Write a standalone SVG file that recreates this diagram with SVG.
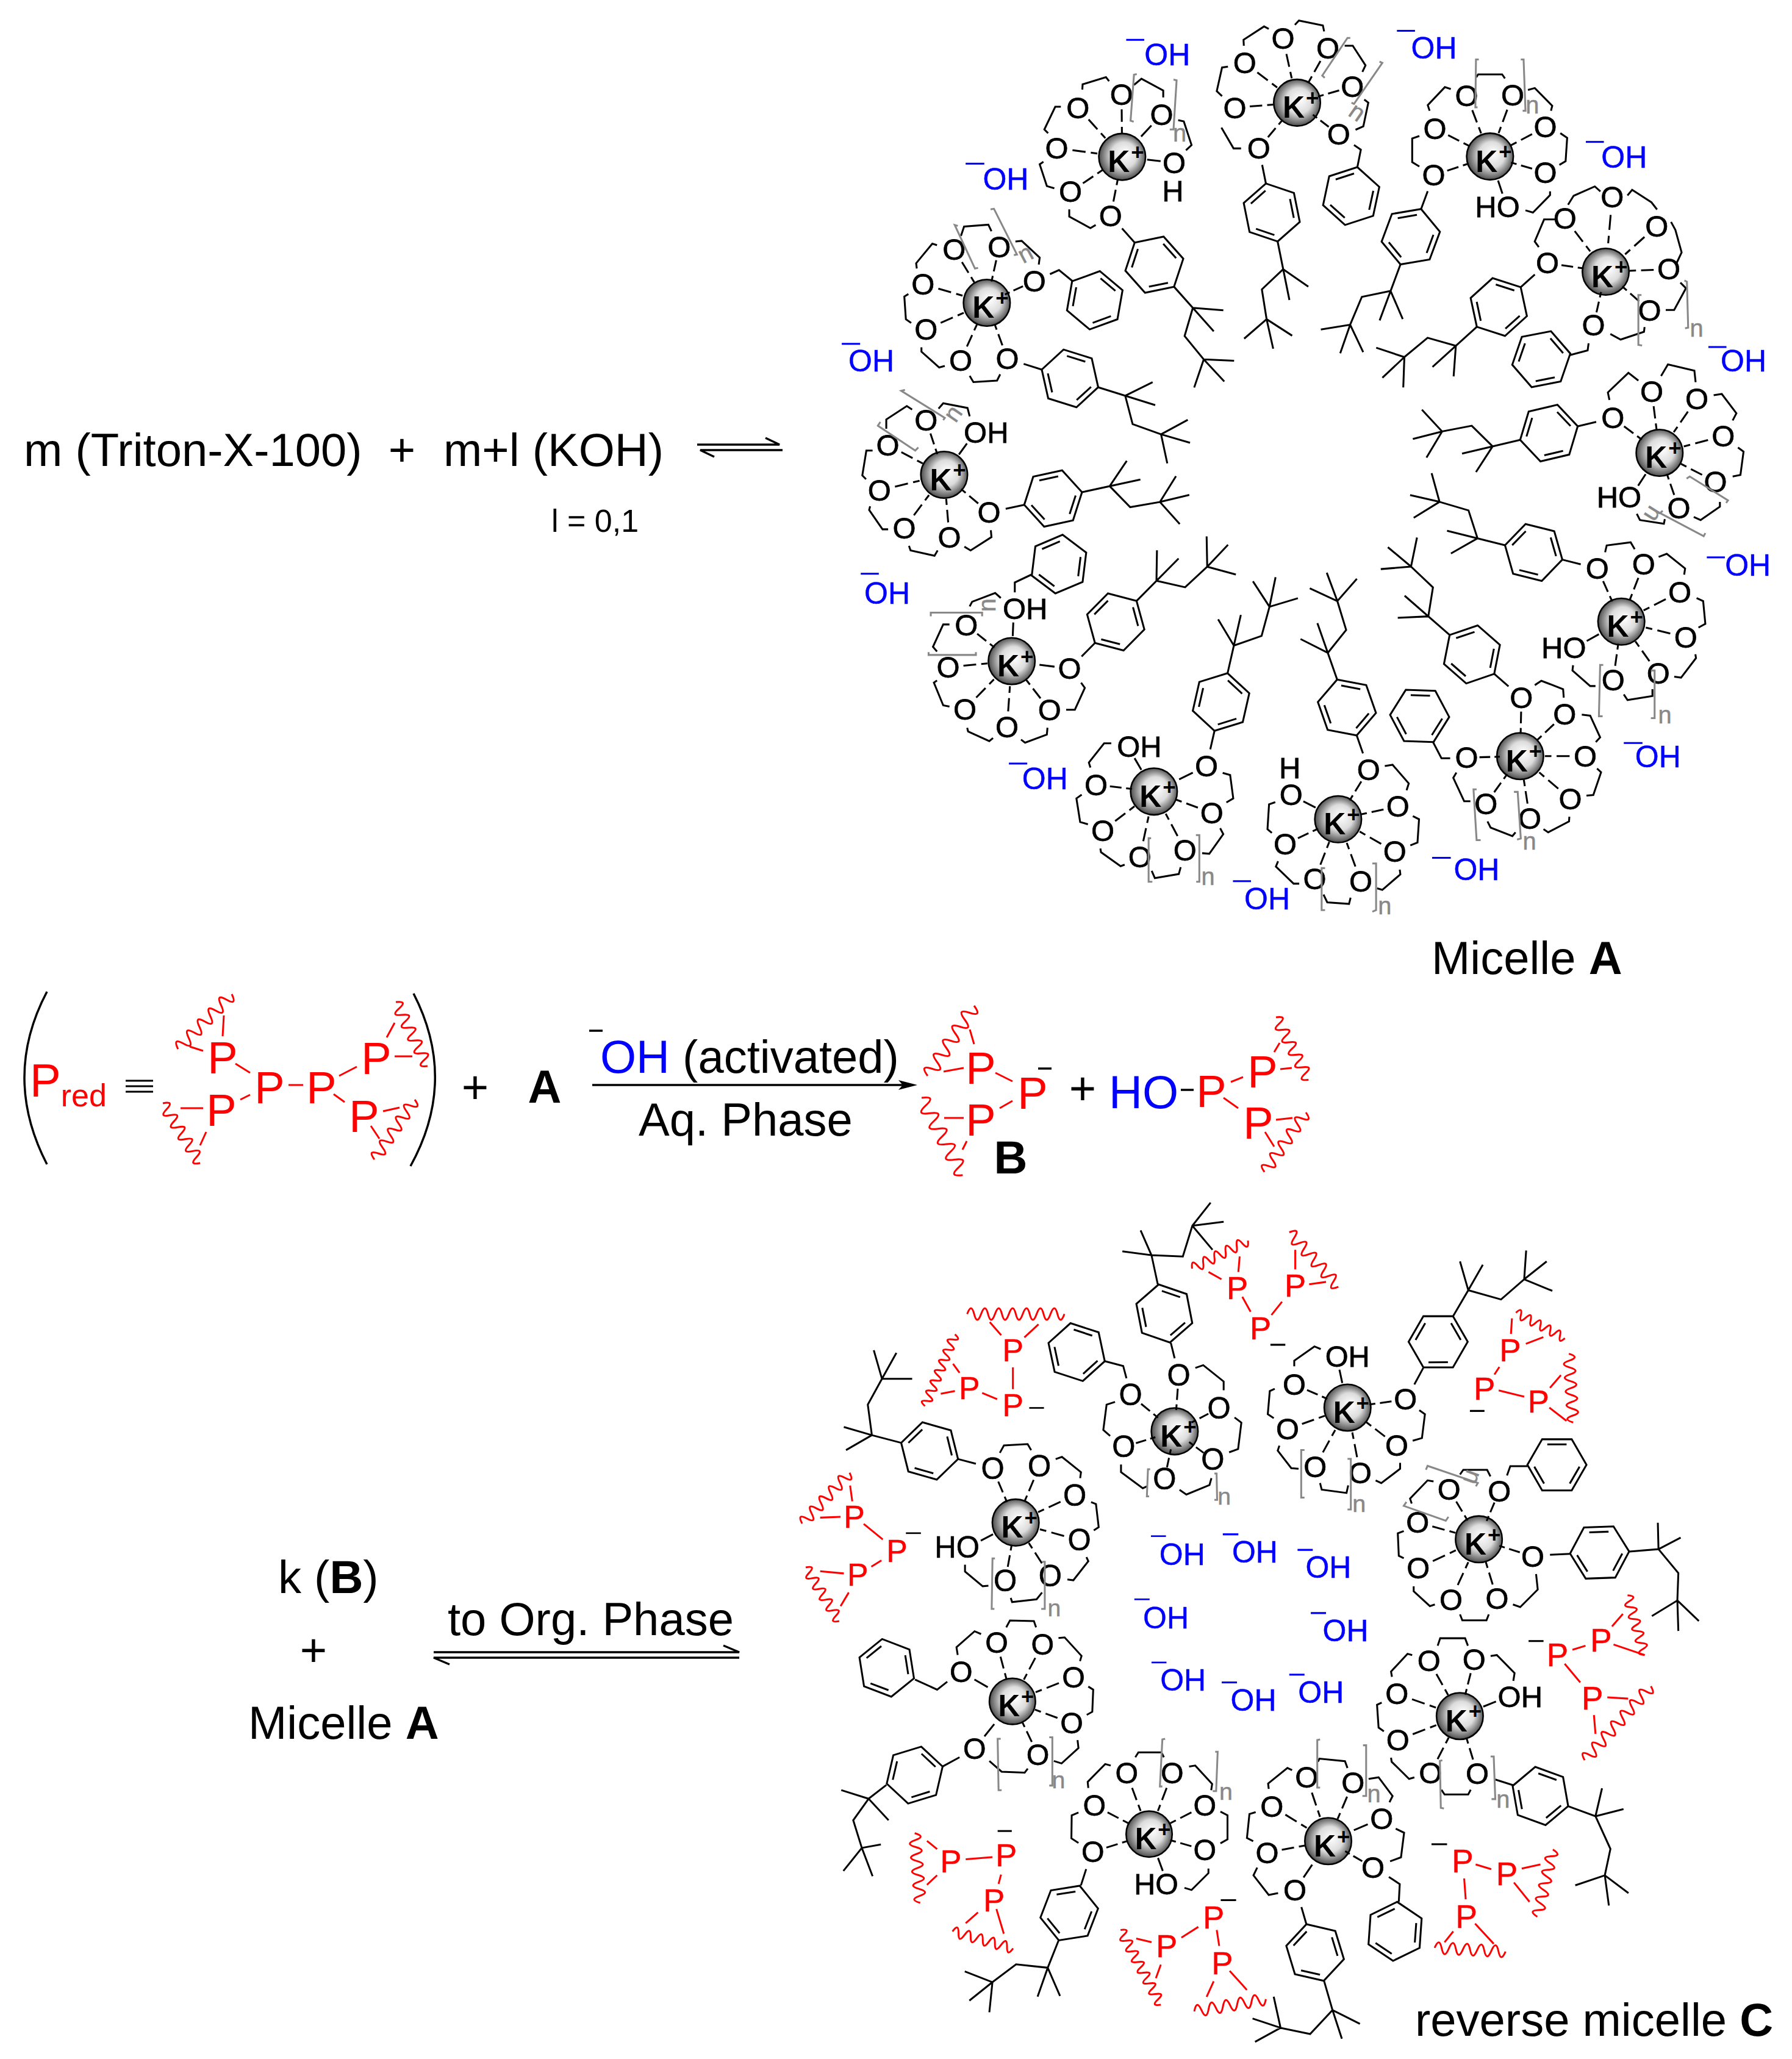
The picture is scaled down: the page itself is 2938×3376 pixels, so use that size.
<svg xmlns="http://www.w3.org/2000/svg" xmlns:xlink="http://www.w3.org/1999/xlink" width="2938" height="3376" viewBox="0 0 2938 3376">
<style>
text{font-family:"Liberation Sans",Arial,sans-serif}
.l{fill:none;stroke:#000;stroke-width:6}
.c4 .l{stroke-width:6.8}.c9 .l{stroke-width:5.6}
.r{fill:none;stroke:#f00;stroke-width:6}
.c4 .r{stroke-width:6.8}.c9 .r{stroke-width:5.6}
.g{fill:none;stroke:#888;stroke-width:6}
.c4 .g{stroke-width:6.8}.c9 .g{stroke-width:5.6}
.s path{fill:none;stroke:#000;stroke-width:6;stroke-dasharray:0 38 10 8 20 100}
.c4 .s path{stroke-width:6.8}.c9 .s path{stroke-width:5.6}
.s path.h{stroke-dasharray:0 48 26 100}
.o,.oh,.p,.n{text-anchor:middle;dominant-baseline:central}
.o{font-size:96px;fill:#000;stroke:#000;stroke-width:1.5}.oh{font-size:98px;fill:#00f;stroke:#00f;stroke-width:1}.p{font-size:104px;fill:#f00;stroke:#f00;stroke-width:1}
.n{font-size:78px;fill:#888;stroke:#888;stroke-width:1}
.c4 .o{font-size:110px}.c4 .oh{font-size:112px}.c4 .p{font-size:116px}.c4 .n{font-size:88px}
.c9 .o{font-size:90px}.c9 .oh{font-size:92px}.c9 .p{font-size:97px}.c9 .n{font-size:73px}
.k{font-size:98px;font-weight:700;text-anchor:middle;fill:#000}
.kp{font-size:72px}
.b{fill:url(#ball);stroke:#000;stroke-width:5}
.bar{stroke:#00f;stroke-width:6;fill:none}
.mb{stroke:#000;stroke-width:6;fill:none}
.w{fill:none;stroke:#f00;stroke-width:3;vector-effect:non-scaling-stroke}
.t{font-size:76px;fill:#000}.tb{font-weight:700}
.red{fill:#f00}.blue{fill:#00f}
.pf{font-size:74px;fill:#f00;text-anchor:middle}
.fl{fill:none;stroke:#f00;stroke-width:3}
.fk{fill:none;stroke:#000;stroke-width:3.5}
</style>
<defs>
<radialGradient id="ball" cx=".5" cy=".5" r=".55" fx=".58" fy=".42">
<stop offset="0" stop-color="#fff"/><stop offset=".5" stop-color="#dcdcdc"/><stop offset=".85" stop-color="#666"/><stop offset="1" stop-color="#222"/>
</radialGradient>
<g id="ph"><path class="l" d="M95,0L47.5,82.3H-47.5L-95,0L-47.5,-82.3H47.5Z M72.7,6L41.3,60 M-41.3,60L-72.7,6 M-31,-66H31"/></g>
<g id="t"><path class="l" d="M55,0H116 M306,0H498 M397,0L468,-68 M397,0L447,80L544,84L591,167 M544,84L641,82 M544,84L612,14"/><use href="#ph" x="211"/></g>
<path id="wv" class="w" d="M0,0c10,-28 18,-28 25,0c7,28 15,28 25,0c10,-28 18,-28 25,0c7,28 15,28 25,0c10,-28 18,-28 25,0c7,28 15,28 25,0c10,-28 18,-28 25,0c7,28 15,28 25,0c10,-28 18,-28 25,0c7,28 15,28 25,0c10,-28 18,-28 25,0c7,28 15,28 25,0c10,-28 18,-28 25,0c7,28 15,28 25,0"/>
<path id="wf" class="w" d="M0,0c14,-38 25,-38 35,0c10,38 21,38 35,0c14,-38 25,-38 35,0c10,38 21,38 35,0c14,-38 25,-38 35,0c10,38 21,38 35,0c14,-38 25,-38 35,0c10,38 21,38 35,0c14,-38 25,-38 35,0c10,38 21,38 35,0"/>
</defs>
<rect width="2938" height="3376" fill="#fff"/>

<g id="micelle-a-left" transform="translate(1350,50) scale(.5102)">
<g id="a1">
<path class="l" d="M1279,312L1318,379H1342 M1300,116L1281,119L1264,195L1281,211 M1351,49L1350,30L1416,-13L1431,-5 M1515,-18L1528,-32L1605,-16L1609,3 M1675,49H1701L1742,112L1732,133 M1738,222L1751,232L1735,308L1710,319 M1705,368L1727,383L1716,438"/>
<use href="#t" transform="translate(1399,378) rotate(78.6)"/>
<use href="#ph" transform="translate(1696,532) rotate(-18)"/>
<g transform="translate(1522,232)"><circle class="b" r="75"/></g>
<g class="s"><path pathLength="100" d="M1522,232L1399,378"/><path pathLength="100" d="M1522,232L1322,248"/><path pathLength="100" d="M1522,232L1354,104"/><path pathLength="100" d="M1522,232L1477,26"/><path pathLength="100" d="M1522,232L1621,56"/><path pathLength="100" d="M1522,232L1700,180"/><path pathLength="100" d="M1522,232L1656,334"/></g>
<text class="k" x="1534" y="281">K<tspan class="kp" dx=".05em" dy="-.55em">+</tspan></text>
<text class="o" x="1399" y="378">O</text><text class="o" x="1322" y="248">O</text><text class="o" x="1354" y="104">O</text><text class="o" x="1477" y="26">O</text><text class="o" x="1621" y="56">O</text><text class="o" x="1700" y="180">O</text><text class="o" x="1656" y="334">O</text>
<path class="g" d="M1693,24H1684L1603,145L1611,152 M1787,100L1796,104L1705,236L1697,232"/>
<text class="n" x="1716" y="261" transform="rotate(35 1716 261)">n</text>
</g>
<g id="a2">
<path class="l" d="M832,190L833,173L908,150L918,163 M763,245H745L710,318L722,330 M707,422L695,430L718,500L742,507 M790,575V598L858,635L875,625 M998,175L1022,155L1092,193V215 M1140,288L1158,292L1183,368L1165,385"/>
<use href="#t" transform="translate(923,595) rotate(48.3)"/>
<g transform="translate(960,406)"><circle class="b" r="75"/></g>
<g class="s"><path pathLength="100" d="M960,406L958,205"/><path pathLength="100" d="M960,406L818,248"/><path pathLength="100" d="M960,406L750,378"/><path pathLength="100" d="M960,406L794,518"/><path pathLength="100" d="M960,406L923,595"/><path class="h" pathLength="100" d="M960,406L1127,425"/><path class="h" pathLength="100" d="M960,406L1087,270"/></g>
<text class="k" x="972" y="455">K<tspan class="kp" dx=".05em" dy="-.55em">+</tspan></text>
<text class="o" x="958" y="205">O</text><text class="o" x="818" y="248">O</text><text class="o" x="750" y="378">O</text><text class="o" x="794" y="518">O</text><text class="o" x="923" y="595">O</text><text class="o" x="1087" y="270">O</text><text class="o" x="1127" y="425">O</text><text class="o" x="1123" y="515">H</text>
<path class="g" d="M1007,140L998,142L987,290L997,293 M1125,158L1135,160L1125,318L1113,318"/>
<text class="n" x="1145" y="330">n</text>
</g>
<g id="a3">
<path class="l" d="M442,660L452,630L530,624L540,645 M617,678L637,676L695,730L692,752 M300,765L298,748L350,685L365,690 M273,847L260,855L265,928L282,940 M315,1018V1032L372,1083L390,1078 M470,1110L482,1130L558,1125L568,1105 M728,783L757,770L800,805"/>
<use href="#t" transform="translate(591,1055) rotate(17.4)"/>
<use href="#ph" transform="translate(872,867) rotate(-80)"/>
<g transform="translate(525,875)"><circle class="b" r="75"/></g>
<g class="s"><path pathLength="100" d="M525,875L420,703"/><path pathLength="100" d="M525,875L565,695"/><path pathLength="100" d="M525,875L678,805"/><path pathLength="100" d="M525,875L320,815"/><path pathLength="100" d="M525,875L330,960"/><path pathLength="100" d="M525,875L441,1060"/><path pathLength="100" d="M525,875L591,1055"/></g>
<text class="k" x="537" y="924">K<tspan class="kp" dx=".05em" dy="-.55em">+</tspan></text>
<text class="o" x="420" y="703">O</text><text class="o" x="565" y="695">O</text><text class="o" x="678" y="805">O</text><text class="o" x="320" y="815">O</text><text class="o" x="330" y="960">O</text><text class="o" x="441" y="1060">O</text><text class="o" x="591" y="1055">O</text>
<path class="g" d="M432,628L422,625L487,765L497,763 M537,575L548,573L622,720L612,722"/>
<text class="n" x="648" y="716" transform="rotate(-28 648 716)">n</text>
</g>
<g id="a4">
<path class="l" d="M202,1280V1250L268,1207L285,1218 M158,1350H138L125,1430L137,1442 M150,1529L147,1541L190,1603H208 M275,1656L280,1671L357,1688L367,1671 M453,1659L473,1671L540,1628L538,1606 M370,1215L385,1198L463,1213L470,1240"/>
<use href="#t" transform="translate(532,1549) rotate(-12.3)"/>
<g transform="translate(388,1428)"><circle class="b" r="75"/></g>
<g class="s"><path pathLength="100" d="M388,1428L330,1253"/><path pathLength="100" d="M388,1428L207,1332"/><path pathLength="100" d="M388,1428L180,1478"/><path pathLength="100" d="M388,1428L260,1599"/><path pathLength="100" d="M388,1428L405,1629"/><path pathLength="100" d="M388,1428L532,1549"/><path class="h" pathLength="100" d="M388,1428L487,1292"/></g>
<text class="k" x="400" y="1477">K<tspan class="kp" dx=".05em" dy="-.55em">+</tspan></text>
<text class="o" x="330" y="1253">O</text><text class="o" x="207" y="1332">O</text><text class="o" x="180" y="1478">O</text><text class="o" x="260" y="1599">O</text><text class="o" x="405" y="1629">O</text><text class="o" x="532" y="1549">O</text><text class="o" x="523" y="1292">OH</text>
<path class="g" d="M262,1155L250,1158L390,1245L385,1252 M183,1258L175,1270L295,1350L305,1340"/>
<text class="n" x="415" y="1230" transform="rotate(-55 415 1230)">n</text>
</g>
<g id="a12">
<path class="l" d="M2098,150L2104,141H2181L2190,154 M2016,188L1997,182L1942,240L1948,258 M1915,339L1892,347V423L1915,437 M2264,191L2286,185L2342,242L2338,258 M2368,330L2390,345L2385,420L2365,432 M2335,517V529L2280,585L2256,578"/>
<use href="#t" transform="translate(1961,465) rotate(110.4)"/>
<g transform="translate(2142,405)"><circle class="b" r="75"/></g>
<g class="s"><path pathLength="100" d="M2142,405L2067,209"/><path pathLength="100" d="M2142,405L2215,207"/><path pathLength="100" d="M2142,405L2320,310"/><path pathLength="100" d="M2142,405L2320,456"/><path pathLength="100" d="M2142,405L1965,315"/><path pathLength="100" d="M2142,405L1961,465"/><path class="h" pathLength="100" d="M2142,405L2196,566"/></g>
<text class="k" x="2154" y="454">K<tspan class="kp" dx=".05em" dy="-.55em">+</tspan></text>
<text class="o" x="2067" y="209">O</text><text class="o" x="2215" y="207">O</text><text class="o" x="2320" y="310">O</text><text class="o" x="2320" y="456">O</text><text class="o" x="1965" y="315">O</text><text class="o" x="1961" y="465">O</text><text class="o" x="2166" y="566">HO</text>
<path class="g" d="M2106,93H2097L2095,247H2102 M2241,93H2250L2256,258H2247"/>
<text class="n" x="2278" y="240">n</text>
</g>
<text class="oh" x="1105" y="78">OH</text><path class="bar" d="M973,30h58"/>
<text class="oh" x="586" y="478">OH</text><path class="bar" d="M457,428h60"/>
<text class="oh" x="154" y="1062">OH</text><path class="bar" d="M59,1007h59"/>
<text class="oh" x="1962" y="57">OH</text><path class="bar" d="M1843,1h58"/>
<text class="oh" x="2573" y="408">OH</text><path class="bar" d="M2450,358h58"/>
</g>

<g id="micelle-a-right" transform="translate(2130,420) scale(.5102)">
<g id="a10">
<path class="l" d="M1090,400L1058,375L992,438L997,462 M1163,385L1185,348L1270,368L1274,405 M1332,447L1358,443L1405,505L1393,528 M1410,615L1428,628L1418,703L1393,708 M1352,790V805L1290,848L1268,838 M1175,845L1172,860L1095,848L1085,828"/>
<use href="#t" transform="translate(1008,520) rotate(166.7)"/>
<g transform="translate(1158,632)"><circle class="b" r="75"/></g>
<g class="s"><path pathLength="100" d="M1158,632L1008,520"/><path pathLength="100" d="M1158,632L1133,435"/><path pathLength="100" d="M1158,632L1278,458"/><path pathLength="100" d="M1158,632L1363,578"/><path pathLength="100" d="M1158,632L1338,725"/><path pathLength="100" d="M1158,632L1220,810"/><path class="h" pathLength="100" d="M1158,632L1065,775"/></g>
<text class="k" x="1170" y="681">K<tspan class="kp" dx=".05em" dy="-.55em">+</tspan></text>
<text class="o" x="1008" y="520">O</text><text class="o" x="1133" y="435">O</text><text class="o" x="1278" y="458">O</text><text class="o" x="1363" y="578">O</text><text class="o" x="1338" y="725">O</text><text class="o" x="1220" y="810">O</text><text class="o" x="1028" y="775">HO</text>
<path class="g" d="M1245,715L1255,708L1378,785L1372,793 M1168,818L1160,826L1300,900L1305,890"/>
<text class="n" x="1140" y="830" transform="rotate(122 1140 830)">n</text>
</g>
<g id="a11">
<path class="l" d="M1000,250L1033,268L1108,243L1110,228 M1178,173H1205L1243,103L1225,85 M770,-29L757,-47L787,-118H823 M864,-165L882,-194L950,-224L968,-208 M1055,-195L1070,-213L1132,-173L1150,-150 M1195,-110L1209,-84L1229,-12L1213,22 M930,280L927,303L870,318"/>
<use href="#t" transform="translate(798,22) rotate(137.9)"/>
<use href="#ph" transform="translate(778,331) rotate(-71)"/>
<g transform="translate(985,50)"><circle class="b" r="75"/></g>
<g class="s"><path pathLength="100" d="M985,50L798,22"/><path pathLength="100" d="M985,50L946,222"/><path pathLength="100" d="M985,50L1126,175"/><path pathLength="100" d="M985,50L1188,42"/><path pathLength="100" d="M985,50L1149,-97"/><path pathLength="100" d="M985,50L1006,-190"/><path pathLength="100" d="M985,50L854,-122"/></g>
<text class="k" x="997" y="99">K<tspan class="kp" dx=".05em" dy="-.55em">+</tspan></text>
<text class="o" x="798" y="22">O</text><text class="o" x="946" y="222">O</text><text class="o" x="1126" y="175">O</text><text class="o" x="1188" y="42">O</text><text class="o" x="1149" y="-97">O</text><text class="o" x="1006" y="-190">O</text><text class="o" x="854" y="-122">O</text>
<path class="g" d="M1100,125H1090V285L1102,287 M1238,78L1246,82L1250,230L1240,232"/>
<text class="n" x="1277" y="232">n</text>
</g>
<text class="oh" x="1428" y="338">OH</text><path class="bar" d="M1315,292h58"/>
<text class="oh" x="1442" y="993">OH</text><path class="bar" d="M1310,968h58"/>
</g>

<g id="micelle-a-bottom-right" transform="translate(2000,880) scale(.5102)">
<g id="a7">
<path class="l" d="M530,737L555,733L607,793L600,815 M620,898L640,908L635,983L612,992 M578,1070L580,1085L522,1135L505,1130 M420,1160L415,1180L345,1175L333,1150 M255,1115H237L180,1060L187,1043 M167,952L153,940L158,860L178,853"/>
<use href="#t" transform="translate(478,748) rotate(-109.3)"/>
<g transform="translate(380,908)"><circle class="b" r="75"/></g>
<g class="s"><path pathLength="100" d="M380,908L478,748"/><path pathLength="100" d="M380,908L572,867"/><path pathLength="100" d="M380,908L562,1012"/><path pathLength="100" d="M380,908L453,1108"/><path pathLength="100" d="M380,908L305,1100"/><path pathLength="100" d="M380,908L210,988"/><path class="h" pathLength="100" d="M380,908L229,830"/></g>
<text class="k" x="392" y="957">K<tspan class="kp" dx=".05em" dy="-.55em">+</tspan></text>
<text class="o" x="478" y="748">O</text><text class="o" x="572" y="867">O</text><text class="o" x="562" y="1012">O</text><text class="o" x="453" y="1108">O</text><text class="o" x="305" y="1100">O</text><text class="o" x="210" y="988">O</text><text class="o" x="229" y="830">O</text><text class="o" x="225" y="742">H</text>
<path class="g" d="M338,1065H327V1200H338 M490,1050H502V1200L490,1205"/>
<text class="n" x="530" y="1185">n</text>
</g>
<g id="a8">
<path class="l" d="M1012,477L1033,463L1103,490L1105,517 M1163,572L1190,575L1222,645L1208,660 M1212,745L1225,757L1200,830L1178,832 M1123,900L1122,915L1055,950L1040,940 M950,950L940,962L870,935L860,915 M805,850H785L750,775L760,758 M740,712H712L685,660"/>
<use href="#t" transform="translate(969,517) rotate(-138.9)"/>
<use href="#ph" transform="translate(642,576) rotate(2)"/>
<g transform="translate(965,705)"><circle class="b" r="75"/></g>
<g class="s"><path pathLength="100" d="M965,705L969,517"/><path pathLength="100" d="M965,705L1108,570"/><path pathLength="100" d="M965,705L1174,705"/><path pathLength="100" d="M965,705L1126,843"/><path pathLength="100" d="M965,705L996,906"/><path pathLength="100" d="M965,705L855,858"/><path pathLength="100" d="M965,705L793,710"/></g>
<text class="k" x="977" y="754">K<tspan class="kp" dx=".05em" dy="-.55em">+</tspan></text>
<text class="o" x="969" y="517">O</text><text class="o" x="1108" y="570">O</text><text class="o" x="1174" y="705">O</text><text class="o" x="1126" y="843">O</text><text class="o" x="996" y="906">O</text><text class="o" x="855" y="858">O</text><text class="o" x="793" y="710">O</text>
<path class="g" d="M825,812H815L825,975H838 M945,820H957L967,970L955,973"/>
<text class="n" x="995" y="978">n</text>
</g>
<g id="a9">
<path class="l" d="M1238,50L1243,28L1320,18L1333,40 M1410,65L1436,55L1495,102L1492,122 M1532,197L1553,207L1560,280L1538,292 M1528,378L1530,390L1482,453L1460,450 M1390,490V512L1310,525L1298,507 M1207,480H1190L1133,430L1135,413"/>
<use href="#t" transform="translate(1213,102) rotate(-165.9)"/>
<g transform="translate(1290,273)"><circle class="b" r="75"/></g>
<g class="s"><path pathLength="100" d="M1290,273L1213,102"/><path pathLength="100" d="M1290,273L1362,88"/><path pathLength="100" d="M1290,273L1478,178"/><path pathLength="100" d="M1290,273L1497,323"/><path pathLength="100" d="M1290,273L1409,440"/><path pathLength="100" d="M1290,273L1264,460"/><path class="h" pathLength="100" d="M1290,273L1140,357"/></g>
<text class="k" x="1302" y="322">K<tspan class="kp" dx=".05em" dy="-.55em">+</tspan></text>
<text class="o" x="1213" y="102">O</text><text class="o" x="1362" y="88">O</text><text class="o" x="1478" y="178">O</text><text class="o" x="1497" y="323">O</text><text class="o" x="1409" y="440">O</text><text class="o" x="1264" y="460">O</text><text class="o" x="1105" y="357">HO</text>
<path class="g" d="M1232,412H1222L1218,577H1230 M1385,430H1397V583H1385"/>
<text class="n" x="1430" y="572">n</text>
</g>
<text class="oh" x="152" y="1165">OH</text><path class="bar" d="M42,1107h58"/>
<text class="oh" x="825" y="1070">OH</text><path class="bar" d="M682,1032h60"/>
<text class="oh" x="1408" y="708">OH</text><path class="bar" d="M1298,663h60"/>
</g>

<g id="micelle-a-bottom-left" transform="translate(1350,780) scale(.5102)">
<g id="a5">
<path class="l" d="M470,420L478,405L552,377L570,393 M405,478H385L352,550L365,565 M365,658L355,665L385,738L405,742 M462,810L465,822L533,853L545,843 M635,848L648,858L718,832L720,810 M780,752H808L840,682L828,665 M615,375V343L668,318"/>
<use href="#t" transform="translate(791,620) rotate(-45.3)"/>
<use href="#ph" transform="translate(757,284) rotate(97)"/>
<g transform="translate(605,596)"><circle class="b" r="75"/></g>
<g class="s"><path pathLength="100" d="M605,596L459,480"/><path pathLength="100" d="M605,596L401,615"/><path pathLength="100" d="M605,596L455,750"/><path pathLength="100" d="M605,596L590,808"/><path pathLength="100" d="M605,596L727,753"/><path class="h" pathLength="100" d="M605,596L791,620"/><path class="h" pathLength="100" d="M605,596L612,428"/></g>
<text class="k" x="617" y="645">K<tspan class="kp" dx=".05em" dy="-.55em">+</tspan></text>
<text class="o" x="459" y="480">O</text><text class="o" x="401" y="615">O</text><text class="o" x="455" y="750">O</text><text class="o" x="590" y="808">O</text><text class="o" x="727" y="753">O</text><text class="o" x="791" y="620">O</text><text class="o" x="648" y="428">OH</text>
<path class="g" d="M345,452V440H510V452 M338,567V576H490V567"/>
<text class="n" x="525" y="416" transform="rotate(-90 525 416)">n</text>
</g>
<g id="a6">
<path class="l" d="M858,938L853,922L902,860H925 M830,1025L813,1037L825,1113L850,1120 M890,1198L892,1210L955,1255L968,1250 M1055,1270L1065,1293L1142,1280L1148,1258 M1217,1213L1240,1215L1285,1152L1275,1133 M1295,1050L1317,1037L1307,962L1283,955"/>
<use href="#t" transform="translate(1231,933) rotate(-77.2)"/>
<g transform="translate(1062,1015)"><circle class="b" r="75"/></g>
<g class="s"><path pathLength="100" d="M1062,1015L876,993"/><path pathLength="100" d="M1062,1015L898,1140"/><path pathLength="100" d="M1062,1015L1017,1225"/><path pathLength="100" d="M1062,1015L1162,1203"/><path pathLength="100" d="M1062,1015L1248,1083"/><path class="h" pathLength="100" d="M1062,1015L1231,933"/><path class="h" pathLength="100" d="M1062,1015L978,870"/></g>
<text class="k" x="1074" y="1064">K<tspan class="kp" dx=".05em" dy="-.55em">+</tspan></text>
<text class="o" x="876" y="993">O</text><text class="o" x="898" y="1140">O</text><text class="o" x="1017" y="1225">O</text><text class="o" x="1162" y="1203">O</text><text class="o" x="1248" y="1083">O</text><text class="o" x="1231" y="933">O</text><text class="o" x="1015" y="870">OH</text>
<path class="g" d="M1053,1165H1045V1305H1057 M1197,1155H1208V1305H1198"/>
<text class="n" x="1236" y="1288">n</text>
</g>
<text class="oh" x="205" y="378">OH</text><path class="bar" d="M120,315h58"/>
<text class="oh" x="712" y="975">OH</text><path class="bar" d="M596,925h59"/>
</g>

<g id="reaction-text">
<text class="t" x="39" y="764">m (Triton-X-100)</text>
<text class="t" x="659" y="764" text-anchor="middle">+</text>
<text class="t" x="727" y="764">m+l (KOH)</text>
<text x="904" y="872" font-size="52">l = 0,1</text>
<text class="t" x="2347" y="1597">Micelle <tspan class="tb">A</tspan></text>
<text class="t" x="456" y="2612">k (<tspan class="tb">B</tspan>)</text>
<text class="t" x="514" y="2732" text-anchor="middle">+</text>
<text class="t" x="407" y="2851">Micelle <tspan class="tb">A</tspan></text>
<text class="t" x="734" y="2681">to Org. Phase</text>
<text class="t" x="2320" y="3338">reverse micelle <tspan class="tb">C</tspan></text>
<text class="t" x="984" y="1759"><tspan class="blue">OH</tspan> (activated)</text>
<text class="t" x="1047" y="1862">Aq. Phase</text>
<text class="t" x="779" y="1809" text-anchor="middle">+</text>
<text class="t tb" x="893" y="1808" text-anchor="middle">A</text>
<text class="t tb" x="1657" y="1924" text-anchor="middle">B</text>
<text class="t" x="1775" y="1811" text-anchor="middle">+</text>
<text class="t blue" x="1818" y="1817">HO</text>
</g>

<g id="connectors">
<path class="fk" d="M1143,729H1278L1255,718 M1283,738H1148L1171,749"/>
<path class="fk" d="M966,1690H988"/>
<path class="fk" d="M971,1779H1485"/><path d="M1473,1771L1504,1779L1473,1787L1480,1779Z"/>
<path class="fk" d="M711,2709H1212L1186,2698 M1212,2718H711L737,2729"/>
<path class="fk" d="M1936,1787H1957"/>
<path fill="none" stroke="#000" stroke-width="3.5" d="M77,1626Q3,1766 77,1909 M678,1629Q751,1771 673,1912"/>
<path fill="none" stroke="#000" stroke-width="3" d="M206,1772H251 M206,1781H251 M206,1790H251"/>
</g>

<g id="pred">
<text class="pf" x="49" y="1798" style="font-size:76px;text-anchor:start">P<tspan dy="16" style="font-size:52px">red</tspan></text>
<text class="pf" x="365" y="1760">P</text><text class="pf" x="442" y="1809">P</text><text class="pf" x="527" y="1809">P</text><text class="pf" x="617" y="1761">P</text><text class="pf" x="597" y="1856">P</text><text class="pf" x="363" y="1846">P</text>
<path class="fl" d="M386,1744L410,1759 M394,1803L410,1795 M473,1779H497 M556,1764L585,1749 M547,1794L565,1807 M367,1665L365,1699 M311,1716L333,1723 M647,1677L634,1701 M647,1732H676 M628,1822L655,1816 M608,1846L622,1867 M296,1817H333 M338,1856L328,1878"/>
<use href="#wf" transform="translate(380,1630) rotate(134.4) scale(.36)"/>
<use href="#wf" transform="translate(649,1643) rotate(63.7) scale(.335)"/>
<use href="#wf" transform="translate(680,1803) rotate(124) scale(.338)"/>
<use href="#wf" transform="translate(267,1809) rotate(58) scale(.33)"/>
</g>
<g id="anion-b">
<text class="pf" x="1608" y="1777">P</text><text class="pf" x="1693" y="1818">P</text><text class="pf" x="1608" y="1862">P</text>
<path class="fk" d="M1702,1752H1724"/>
<path class="fl" d="M1632,1759L1660,1773 M1639,1817L1660,1805 M1590,1688L1597,1712 M1547,1757L1580,1751 M1548,1833H1580 M1585,1871L1578,1885"/>
<use href="#wf" transform="translate(1597,1649) rotate(123.5) scale(.394)"/>
<use href="#wf" transform="translate(1511,1800) rotate(62) scale(.41)"/>
</g>
<g id="ho-fragment">
<text class="pf" x="1986" y="1815">P</text><text class="pf" x="2070" y="1783">P</text><text class="pf" x="2063" y="1867">P</text>
<path class="fl" d="M2018,1774L2038,1766 M2006,1800L2030,1817 M2098,1710L2089,1725 M2099,1753L2118,1751 M2092,1836L2119,1833 M2074,1856L2089,1880"/>
<use href="#wf" transform="translate(2092,1668) rotate(62.5) scale(.33)"/>
<use href="#wf" transform="translate(2141,1824) rotate(124.8) scale(.34)"/>
</g>

<g id="micelle-c-top-left" class="c4" transform="translate(1300,2100) scale(.4464)">
<g id="c1">
<path class="l" d="M760,632L775,605L862,600L875,622 M965,655L988,647L1058,703L1055,725 M1095,813L1113,820L1123,905L1105,917 M1078,1015L1085,1030L1030,1100L1008,1097 M915,1145L895,1170L805,1180L800,1165 M718,1120L697,1122L632,1068V1043 M672,672L607,655 M397,595L290,567L187,537 M290,567L195,622 M290,567L275,455L327,360L297,255 M327,360L380,265 M327,360H438"/>
<use href="#ph" transform="translate(502,625) rotate(-44) scale(1.143)"/>
<g transform="translate(818,888) scale(1.143)"><circle class="b" r="75"/><text class="k" x="12" y="49">K<tspan class="kp" dx=".05em" dy="-.55em">+</tspan></text></g>
<g class="s"><path pathLength="100" d="M818,888L734,690"/><path pathLength="100" d="M818,888L905,682"/><path pathLength="100" d="M818,888L1035,788"/><path pathLength="100" d="M818,888L1052,953"/><path pathLength="100" d="M818,888L945,1085"/><path pathLength="100" d="M818,888L780,1102"/><path class="h" pathLength="100" d="M818,888L645,978"/></g>
<text class="o" x="734" y="690">O</text><text class="o" x="905" y="682">O</text><text class="o" x="1035" y="788">O</text><text class="o" x="1052" y="953">O</text><text class="o" x="945" y="1085">O</text><text class="o" x="780" y="1102">O</text><text class="o" x="603" y="978">HO</text>
<path class="g" d="M742,1020H733L730,1205H740 M915,1032H925V1205H912"/>
<text class="n" x="960" y="1200">n</text>
</g>
<g id="c2">
<path class="l" d="M1478,320L1507,310L1582,370V402 M1622,502L1647,521L1635,618L1602,630 M1537,725L1530,750L1445,785L1420,768 M1205,675V703L1285,762L1300,755 M1183,445L1152,455L1140,548L1165,570 M1225,358L1213,313L1145,295 M1402,285L1388,228 M1340,13L1317,-94L1210,-108 M1317,-94L1277,-185 M1317,-94L1432,-89L1467,-202L1534,-287 M1467,-202L1582,-217 M1467,-202L1541,-114"/>
<use href="#ph" transform="translate(1042,262) rotate(-102) scale(1.143)"/>
<use href="#ph" transform="translate(1364,120) rotate(19) scale(1.143)"/>
<g transform="translate(1402,553) scale(1.143)"><circle class="b" r="75"/><text class="k" x="12" y="49">K<tspan class="kp" dx=".05em" dy="-.55em">+</tspan></text></g>
<g class="s"><path pathLength="100" d="M1402,553L1417,347"/><path pathLength="100" d="M1402,553L1240,420"/><path pathLength="100" d="M1402,553L1215,610"/><path pathLength="100" d="M1402,553L1365,727"/><path pathLength="100" d="M1402,553L1542,657"/><path pathLength="100" d="M1402,553L1565,468"/></g>
<text class="o" x="1417" y="347">O</text><text class="o" x="1240" y="420">O</text><text class="o" x="1215" y="610">O</text><text class="o" x="1365" y="727">O</text><text class="o" x="1542" y="657">O</text><text class="o" x="1565" y="468">O</text>
<path class="g" d="M1312,692L1304,692L1300,792H1308 M1548,708H1556L1558,805H1548"/>
<text class="n" x="1584" y="790">n</text>
</g>
<g id="f1"><text class="p" x="808" y="255">P</text><text class="p" x="648" y="395">P</text><text class="p" x="808" y="457">P</text>
<path class="mb" d="M868,467h54"/>
<path class="r" d="M808,318V398 M695,412L750,435 M723,152L765,200 M902,160L850,208 M588,305L612,338 M543,415L595,405"/>
<use href="#wv" transform="translate(640,122) scale(1.02)"/><use href="#wv" transform="translate(595,197) rotate(112.7) scale(.815)"/></g>
<g id="f2"><text class="p" x="225" y="868">P</text><text class="p" x="382" y="993">P</text><text class="p" x="238" y="1080">P</text>
<path class="mb" d="M415,927h55"/>
<path class="r" d="M260,893L330,950 M325,1027L288,1050 M210,752L218,810 M100,870L175,867 M100,1067L187,1075 M205,1145L175,1195"/>
<use href="#wf" transform="translate(208,705) rotate(133) scale(.73)"/><use href="#wf" transform="translate(47,1053) rotate(58) scale(.664)"/></g>
<text class="oh" x="1430" y="1005">OH</text><path class="bar" d="M1315,938h55"/>
<text class="oh" x="1370" y="1238">OH</text><path class="bar" d="M1254,1170h56"/>
<text class="oh" x="1433" y="1468">OH</text><path class="bar" d="M1317,1402h55"/>
</g>

<g id="micelle-c-top-right" class="c9" transform="translate(1950,1950) scale(.5424)">
<g id="c3">
<path class="l" d="M695,668L712,680L703,752L675,760 M637,827V845L580,888L563,880 M480,895L475,918L400,908L395,888 M330,845L308,843L267,790L272,775 M258,603L243,610L237,680L255,692 M317,535V518L378,475L397,483 M680,590L707,540 M798,382L843,305L818,218 M843,305L887,228 M843,305L942,333L1012,272L1018,185 M1012,272L1080,218 M1012,272L1097,307"/>
<use href="#ph" transform="translate(752,461) rotate(-60) scale(.94)"/>
<g transform="translate(478,660) scale(.94)"><circle class="b" r="75"/><text class="k" x="12" y="49">K<tspan class="kp" dx=".05em" dy="-.55em">+</tspan></text></g>
<g class="s"><path pathLength="100" d="M478,660L653,635"/><path pathLength="100" d="M478,660L627,775"/><path pathLength="100" d="M478,660L516,857"/><path pathLength="100" d="M478,660L380,838"/><path pathLength="100" d="M478,660L297,725"/><path pathLength="100" d="M478,660L317,590"/><path class="h" pathLength="100" d="M478,660L445,505"/></g>
<text class="o" x="653" y="635">O</text><text class="o" x="627" y="775">O</text><text class="o" x="516" y="857">O</text><text class="o" x="380" y="838">O</text><text class="o" x="297" y="725">O</text><text class="o" x="317" y="590">O</text><text class="o" x="478" y="505">OH</text>
<path class="g" d="M348,788H338V932H348 M478,815H488V968H478"/>
<text class="n" x="513" y="950">n</text>
</g>
<g id="c4">
<path class="l" d="M672,950L667,935L720,880L738,883 M648,1033L630,1040L633,1108L648,1115 M678,1200V1215L727,1260L742,1255 M818,1285L825,1303H898L905,1285 M978,1255L1000,1263L1053,1210L1048,1163 M818,862L828,848H900L910,868 M960,865L970,837H1022 M1090,1105L1150,1102 M1330,1095L1418,1088L1416,1008 M1418,1088L1485,1053 M1418,1088L1478,1160L1475,1243L1398,1290 M1475,1243L1478,1335 M1475,1243L1540,1305"/>
<use href="#ph" transform="translate(1111,833) scale(.94)"/>
<use href="#ph" transform="translate(1240,1098) rotate(-2) scale(.94)"/>
<g transform="translate(875,1058) scale(.94)"><circle class="b" r="75"/><text class="k" x="12" y="49">K<tspan class="kp" dx=".05em" dy="-.55em">+</tspan></text></g>
<g class="s"><path pathLength="100" d="M875,1058L785,908"/><path pathLength="100" d="M875,1058L937,912"/><path pathLength="100" d="M875,1058L690,1007"/><path pathLength="100" d="M875,1058L692,1145"/><path pathLength="100" d="M875,1058L791,1240"/><path pathLength="100" d="M875,1058L930,1238"/><path pathLength="100" d="M875,1058L1038,1110"/></g>
<text class="o" x="785" y="908">O</text><text class="o" x="937" y="912">O</text><text class="o" x="690" y="1007">O</text><text class="o" x="692" y="1145">O</text><text class="o" x="791" y="1240">O</text><text class="o" x="930" y="1238">O</text><text class="o" x="1038" y="1110">O</text>
<path class="g" d="M715,848L720,836L872,888L866,898 M656,945L648,957L775,1002L783,990"/>
<text class="n" x="858" y="872" transform="rotate(110 858 872)">n</text>
</g>
<g id="f3"><text class="p" x="145" y="298">P</text><text class="p" x="215" y="420">P</text><text class="p" x="320" y="290">P</text>
<path class="mb" d="M245,470h45"/>
<path class="r" d="M160,325L185,370 M248,380L280,340 M152,203L148,250 M58,250L97,272 M320,183V242 M362,287L413,280"/>
<use href="#wf" transform="translate(177,155) rotate(153.3) scale(.54)"/><use href="#wf" transform="translate(302,130) rotate(48) scale(.634)"/></g>
<g id="f4"><text class="p" x="970" y="485">P</text><text class="p" x="892" y="602">P</text><text class="p" x="1055" y="640">P</text>
<path class="mb" d="M848,670h44"/>
<path class="r" d="M937,537L922,560 M935,608L1012,627 M975,390L972,437 M1017,467L1070,447 M1123,562L1090,600 M1088,660L1140,700"/>
<use href="#wf" transform="translate(987,373) rotate(27.5) scale(.477)"/><use href="#wf" transform="translate(1147,497) rotate(86.4) scale(.595)"/></g>
<text class="oh" x="198" y="1097">OH</text><path class="bar" d="M101,1043h47"/>
<text class="oh" x="420" y="1143">OH</text><path class="bar" d="M327,1090h46"/>
<text class="oh" x="472" y="1335">OH</text><path class="bar" d="M367,1281h46"/>
</g>

<g id="micelle-c-bottom-right" transform="translate(2000,2580) scale(.5102)">
<g id="c5">
<path class="l" d="M700,232L708,208H788L797,232 M870,265L890,262L947,320L943,345 M618,262L603,258L550,315L553,332 M520,415L505,422L510,495L527,507 M550,592L552,605L608,660L625,655 M712,695L722,710H798L806,695 M885,662L942,680 M1117,747L1207,780L1228,690 M1207,780L1297,757 M1207,780L1255,885L1237,970L1142,1002 M1237,970L1250,1067 M1237,970L1313,1027"/>
<use href="#ph" transform="translate(1030,715) rotate(20)"/>
<g transform="translate(771,458)"><circle class="b" r="75"/><text class="k" x="12" y="49">K<tspan class="kp" dx=".05em" dy="-.55em">+</tspan></text></g>
<g class="s"><path pathLength="100" d="M771,458L672,280"/><path pathLength="100" d="M771,458L817,277"/><path pathLength="100" d="M771,458L569,387"/><path pathLength="100" d="M771,458L572,535"/><path pathLength="100" d="M771,458L677,640"/><path pathLength="100" d="M771,458L827,642"/><path class="h" pathLength="100" d="M771,458L928,395"/></g>
<text class="o" x="672" y="280">O</text><text class="o" x="817" y="277">O</text><text class="o" x="569" y="387">O</text><text class="o" x="572" y="535">O</text><text class="o" x="677" y="640">O</text><text class="o" x="827" y="642">O</text><text class="o" x="965" y="395">OH</text>
<path class="g" d="M715,600L707,602L710,753L720,755 M870,588H880L885,725H873"/>
<text class="n" x="910" y="725">n</text>
</g>
<g id="c6">
<path class="l" d="M315,605L320,595L402,603L410,625 M478,660L510,655L555,715L545,735 M565,820L592,833L582,912L547,925 M232,632L217,625L155,675L157,692 M115,767L95,773L87,850L107,860 M120,945L108,970L157,1033L187,1027 M543,975L578,998L575,1055 M262,1072L278,1127 M335,1310L362,1403L392,1495 M362,1403L450,1447 M362,1403L290,1480L195,1460L173,1360 M195,1460L105,1430 M195,1460L113,1505"/>
<use href="#ph" transform="translate(563,1150) rotate(-26)"/>
<use href="#ph" transform="translate(306,1218) rotate(-47)"/>
<g transform="translate(348,860)"><circle class="b" r="75"/><text class="k" x="12" y="49">K<tspan class="kp" dx=".05em" dy="-.55em">+</tspan></text></g>
<g class="s"><path pathLength="100" d="M348,860L279,655"/><path pathLength="100" d="M348,860L428,672"/><path class="h" pathLength="100" d="M348,860L520,787"/><path pathLength="100" d="M348,860L167,748"/><path pathLength="100" d="M348,860L152,897"/><path class="h" pathLength="100" d="M348,860L241,1018"/><path pathLength="100" d="M348,860L492,945"/></g>
<text class="o" x="279" y="655">O</text><text class="o" x="428" y="672">O</text><text class="o" x="520" y="787">O</text><text class="o" x="167" y="748">O</text><text class="o" x="152" y="897">O</text><text class="o" x="241" y="1018">O</text><text class="o" x="492" y="945">O</text>
<path class="g" d="M322,533L313,535V688H322 M460,552H470V715H458"/>
<text class="n" x="495" y="708">n</text>
</g>
<g id="f5"><text class="p" x="1085" y="262">P</text><text class="p" x="1225" y="215">P</text><text class="p" x="1197" y="400">P</text>
<path class="mb" d="M992,217h48"/>
<path class="r" d="M1133,245L1175,232 M1108,290L1158,350 M1295,130L1260,170 M1265,228L1365,262 M1245,398L1312,402 M1202,455L1207,515"/>
<use href="#wf" transform="translate(1310,70) rotate(74) scale(.57)"/><use href="#wv" transform="translate(1385,362) rotate(131.8) scale(.912)"/></g>
<g id="f6"><text class="p" x="780" y="925">P</text><text class="p" x="922" y="965">P</text><text class="p" x="792" y="1102">P</text>
<path class="mb" d="M680,870h50"/>
<path class="r" d="M822,935L872,950 M785,980L790,1047 M970,948L1030,935 M945,993L995,1055 M750,1150L722,1185 M820,1125L880,1190"/>
<use href="#wf" transform="translate(1070,887) rotate(103) scale(.634)"/><use href="#wf" transform="translate(690,1203) rotate(3) scale(.652)"/></g>
<text class="oh" x="108" y="408">OH</text><path class="bar" d="M6,350h49"/>
<text class="oh" x="325" y="382">OH</text><path class="bar" d="M223,325h49"/>
</g>

<g id="micelle-c-bottom-left" transform="translate(1350,2580) scale(.5038)">
<g id="c7">
<path class="l" d="M1015,598L1025,582H1100L1108,598 M935,625L917,620L860,678L862,698 M830,778L808,787L807,862L830,877 M1190,628L1210,625L1265,685L1262,705 M1292,775L1315,787V865L1292,878 M1253,960V975L1198,1030L1175,1023 M855,962L838,1015 M765,1195L730,1283L697,1377 M730,1283L770,1375 M730,1283L627,1272L550,1330L460,1295 M550,1330L475,1390 M550,1330L540,1428"/>
<use href="#ph" transform="translate(800,1105) rotate(-9)"/>
<g transform="translate(1060,848)"><circle class="b" r="75"/><text class="k" x="12" y="49">K<tspan class="kp" dx=".05em" dy="-.55em">+</tspan></text></g>
<g class="s"><path pathLength="100" d="M1060,848L987,650"/><path pathLength="100" d="M1060,848L1135,650"/><path pathLength="100" d="M1060,848L882,755"/><path pathLength="100" d="M1060,848L877,906"/><path pathLength="100" d="M1060,848L1241,755"/><path pathLength="100" d="M1060,848L1241,900"/><path class="h" pathLength="100" d="M1060,848L1120,1010"/></g>
<text class="o" x="987" y="650">O</text><text class="o" x="1135" y="650">O</text><text class="o" x="882" y="755">O</text><text class="o" x="877" y="906">O</text><text class="o" x="1241" y="755">O</text><text class="o" x="1241" y="900">O</text><text class="o" x="1083" y="1010">HO</text>
<path class="g" d="M1112,538L1103,540L1095,693H1103 M1275,580H1283L1278,708H1267"/>
<text class="n" x="1310" y="708">n</text>
</g>
<g id="c8">
<path class="l" d="M595,175L607,153L685,155L692,175 M765,210L785,208L840,268L835,285 M862,368L878,378L875,450L857,460 M827,542L830,568L775,618L750,610 M540,610L580,645L655,648L665,635 M437,265L433,240L492,188L513,197 M403,352L370,378L298,345 M443,598L388,628 M205,688L147,733L58,705 M147,733L212,803 M147,733L97,803L125,893L187,882 M125,893L65,968 M125,893L160,985"/>
<use href="#ph" transform="translate(206,307) rotate(-39)"/>
<use href="#ph" transform="translate(297,656) rotate(-77)"/>
<g transform="translate(615,416)"><circle class="b" r="75"/><text class="k" x="12" y="49">K<tspan class="kp" dx=".05em" dy="-.55em">+</tspan></text></g>
<g class="s"><path pathLength="100" d="M615,416L564,225"/><path pathLength="100" d="M615,416L713,230"/><path class="h" pathLength="100" d="M615,416L448,320"/><path pathLength="100" d="M615,416L814,338"/><path pathLength="100" d="M615,416L808,487"/><path pathLength="100" d="M615,416L698,590"/><path class="h" pathLength="100" d="M615,416L492,570"/></g>
<text class="o" x="564" y="225">O</text><text class="o" x="713" y="230">O</text><text class="o" x="448" y="320">O</text><text class="o" x="814" y="338">O</text><text class="o" x="808" y="487">O</text><text class="o" x="698" y="590">O</text><text class="o" x="492" y="570">O</text>
<path class="g" d="M577,538H567L570,705H580 M735,533H745V690H735"/>
<text class="n" x="765" y="670">n</text>
</g>
<g id="f7"><text class="p" x="415" y="937">P</text><text class="p" x="595" y="918">P</text><text class="p" x="555" y="1063">P</text>
<path class="mb" d="M567,838h46"/>
<path class="r" d="M463,930L550,923 M578,980L570,1010 M337,870L370,897 M337,1013L370,982 M503,1103L463,1138 M563,1092L587,1172"/>
<use href="#wf" transform="translate(297,845) rotate(85.5) scale(.65)"/><use href="#wf" transform="translate(420,1165) rotate(15.6) scale(.585)"/></g>
<g id="f8"><text class="p" x="1117" y="1213">P</text><text class="p" x="1270" y="1120">P</text><text class="p" x="1298" y="1268">P</text>
<path class="mb" d="M1293,1063h50"/>
<path class="r" d="M1165,1185L1220,1150 M1280,1160L1288,1212 M1018,1188L1068,1200 M1098,1273L1082,1317 M1270,1327L1247,1378 M1322,1293L1378,1355"/>
<use href="#wv" transform="translate(967,1160) rotate(61.7) scale(.79)"/><use href="#wf" transform="translate(1207,1425) rotate(-9.7) scale(.675)"/></g>
</g>
</svg>
